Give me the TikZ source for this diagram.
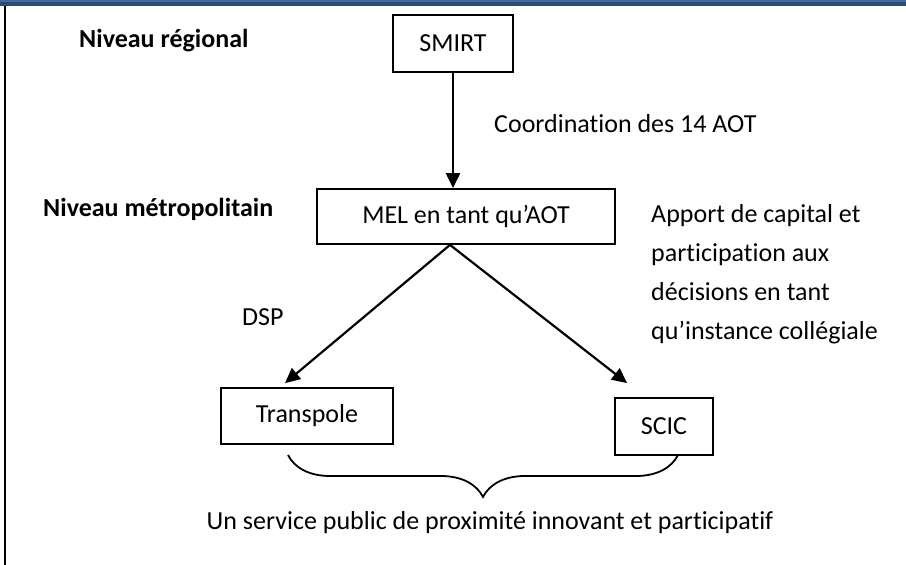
\documentclass[tikz,border=0pt]{standalone}
\usepackage{fontspec}
\setmainfont{Carlito}[Ligatures=NoCommon]
\usetikzlibrary{arrows.meta,decorations.pathreplacing}
\definecolor{barblue}{RGB}{46,74,114}
\definecolor{barlight}{RGB}{66,104,160}
\begin{document}
\begin{tikzpicture}[x=1pt,y=-1pt,line width=1.8pt,
  every node/.style = {font=\fontsize{26}{30}\selectfont},
  box/.style = {shape=rectangle, draw, line width=1.8pt, inner sep=0pt},
  level/.style = {font=\fontsize{26}{30}\selectfont\bfseries, anchor=base west},
  note/.style = {anchor=base west, align=left},
  link/.style = {draw, line width=2.2pt, -{Triangle[length=15pt,width=14pt]}}]
  \useasboundingbox (0,0) rectangle (906,565);
  % frame
  \fill[barblue] (0,0) rectangle (906,6);
  \draw[barlight, line width=1.5pt] (0,1) -- (906,1);
  \draw (5,6) -- (5,565);
  % levels
  \node[level] (reg) at (75,47) {Niveau régional};
  \node[level] (metro) at (39,216) {Niveau métropolitain};
  % boxes
  \node[box, minimum width=120pt, minimum height=57pt] (smirt) at (453,43.5) {SMIRT};
  \node[box, minimum width=298pt, minimum height=55pt] (mel) at (466,216.5) {MEL en tant qu’AOT};
  \node[box, minimum width=172pt, minimum height=56pt] (transpole) at (307,416) {Transpole};
  \node[box, minimum width=98pt, minimum height=57pt] (scic) at (664,426.5) {SCIC};
  % arrows
  \coordinate (fork) at ([xshift=-16pt]mel.south);
  \coordinate (tipL) at ([shift={(-22,-4)}]transpole.north);
  \coordinate (tipR) at ([shift={(13,-14)}]scic.north west);
  \draw[link] (smirt.south) -- (smirt.south |- mel.north);
  \draw[link] (fork) -- (tipL);
  \draw[link] (fork) -- (tipR);
  % labels
  \node[note] (coord) at (490,132) {Coordination des 14 AOT};
  \node[note] (dsp) at (238,325) {DSP};
  \node[note, anchor=north west, text depth=0pt] (apport) at (647,200)
    {Apport de capital et\\[9pt] participation aux\\[9pt] décisions en tant\\[9pt] qu’instance collégiale};
  % brace
  \coordinate (bl) at (288,455);
  \coordinate (br) at (678,455);
  \draw[decorate, decoration={brace, amplitude=42pt, mirror}] (bl) -- (br);
  \node[note, anchor=base] (service) at (490,529) {Un service public de proximité innovant et participatif};
\end{tikzpicture}
\end{document}
